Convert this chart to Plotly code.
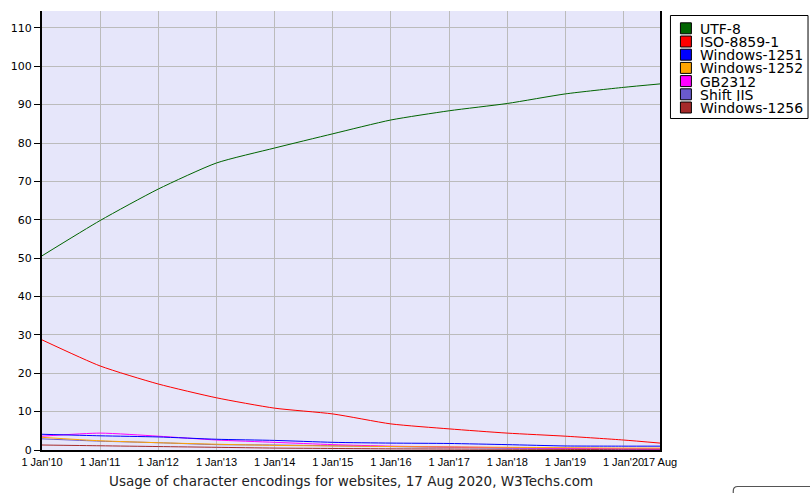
import plotly.graph_objects as go

dates = ["2010-01-01", "2011-01-01", "2012-01-01", "2013-01-01", "2014-01-01", "2015-01-01",
         "2016-01-01", "2017-01-01", "2018-01-01", "2019-01-01", "2020-01-01", "2020-08-17"]
tick_labels = ["1 Jan'10", "1 Jan'11", "1 Jan'12", "1 Jan'13", "1 Jan'14", "1 Jan'15",
               "1 Jan'16", "1 Jan'17", "1 Jan'18", "1 Jan'19", "1 Jan'20", "17 Aug"]

names = ["UTF-8", "ISO-8859-1", "Windows-1251", "Windows-1252", "GB2312", "Shift JIS", "Windows-1256"]
colors = ["#006400", "#FF0000", "#0000FF", "#FFA500", "#FF00FF", "#6A5ACD", "#A52A2A"]

utf8 = [50.6, 59.8, 68.0, 74.8, 78.7, 82.4, 86.0, 88.4, 90.3, 92.8, 94.5, 95.4]
iso8859_1 = [28.7, 21.9, 17.2, 13.6, 10.9, 9.4, 6.8, 5.5, 4.4, 3.6, 2.6, 1.8]
win1251 = [4.1, 3.7, 3.4, 2.8, 2.5, 2.0, 1.8, 1.7, 1.4, 1.05, 1.0, 1.0]
win1252 = [3.3, 2.4, 1.9, 1.5, 1.2, 1.05, 0.9, 0.8, 0.7, 0.6, 0.5, 0.5]
gb2312 = [3.6, 4.4, 3.6, 2.6, 2.0, 1.4, 1.0, 0.8, 0.6, 0.45, 0.35, 0.3]
shift_jis = [2.9, 2.3, 1.9, 1.4, 1.3, 1.1, 0.9, 0.7, 0.5, 0.4, 0.3, 0.3]
win1256 = [1.3, 1.1, 0.9, 0.7, 0.5, 0.4, 0.3, 0.25, 0.2, 0.15, 0.1, 0.1]

series = [utf8, iso8859_1, win1251, win1252, gb2312, shift_jis, win1256]

# body margin is removed in the page, so the figure sits at (0, 0)
W, H = 810, 493
L, R, T, B = 40, 150, 11, 43
PW, PH = W - L - R, H - T - B


def px(x):
    return (x - L) / PW


def py(y):
    return (H - B - y) / PH


fig = go.Figure()
for name, color, vals in reversed(list(zip(names, colors, series))):
    fig.add_trace(go.Scatter(x=dates, y=vals, name=name, mode="lines",
                             line=dict(color=color, width=1, shape="spline", smoothing=0.6),
                             showlegend=False, hoverinfo="x+y+name"))

shapes = []
annotations = []
# legend box
shapes.append(dict(type="rect", xref="paper", yref="paper", x0=px(670.5), x1=px(808.5),
                   y0=py(118.5), y1=py(15.5), line=dict(color="black", width=1),
                   fillcolor="white", layer="above"))
for i, (name, color) in enumerate(zip(names, colors)):
    cy = 28.3 + i * 13.2
    shapes.append(dict(type="rect", xref="paper", yref="paper",
                       x0=px(680.5), x1=px(691.5), y0=py(cy + 5.5), y1=py(cy - 5.5),
                       fillcolor=color, line=dict(color="black", width=1), layer="above"))
    annotations.append(dict(text=name, xref="paper", yref="paper", x=px(699), y=py(cy + 0.5),
                            xanchor="left", yanchor="middle", showarrow=False,
                            height=12, borderpad=0,
                            font=dict(family="DejaVu Sans", size=14, color="black")))

# title
annotations.append(dict(text="Usage of character encodings for websites, 17 Aug 2020, W3Techs.com",
                        xref="paper", yref="paper", x=0.5, y=py(481), xanchor="center",
                        yanchor="middle", showarrow=False,
                        font=dict(family="DejaVu Sans", size=13.5, color="#222222")))

# partial button at bottom right
shapes.append(dict(type="path", xref="paper", yref="paper",
                   path=f"M {px(733.5)},{py(500)} L {px(733.5)},{py(491)} Q {px(733.5)},{py(486.5)} {px(738)},{py(486.5)} "
                        f"L {px(830)},{py(486.5)}",
                   line=dict(color="#555555", width=1.2)))

fig.update_layout(
    width=W, height=H,
    margin=dict(l=L, r=R, t=T, b=B, pad=0),
    paper_bgcolor="white",
    plot_bgcolor="#E6E6FA",
    showlegend=False,
    shapes=shapes,
    annotations=annotations,
    xaxis=dict(type="date", range=[dates[0], dates[-1]], tickvals=dates, ticktext=tick_labels,
               showgrid=True, gridcolor="#BBBBBB", gridwidth=1, showline=True, linecolor="black",
               linewidth=2, ticks="outside", ticklen=1, tickcolor="rgba(0,0,0,0)",
               tickfont=dict(family="Liberation Sans", size=11, color="black"), zeroline=False,
               tickangle=0, fixedrange=True),
    yaxis=dict(range=[0, 114.4], tickvals=list(range(0, 111, 10)), showgrid=True,
               gridcolor="#BBBBBB", gridwidth=1, showline=True, linecolor="black", linewidth=2,
               mirror=True, ticks="outside", ticklen=6, tickcolor="black",
               tickfont=dict(family="DejaVu Sans", size=11, color="black"), zeroline=False,
               fixedrange=True),
)

fig.write_html("out.html",
               config={"displayModeBar": False},
               post_script="document.body.style.margin='0';"
                           "document.documentElement.style.overflow='hidden';"
                           "document.body.style.overflow='hidden';")
